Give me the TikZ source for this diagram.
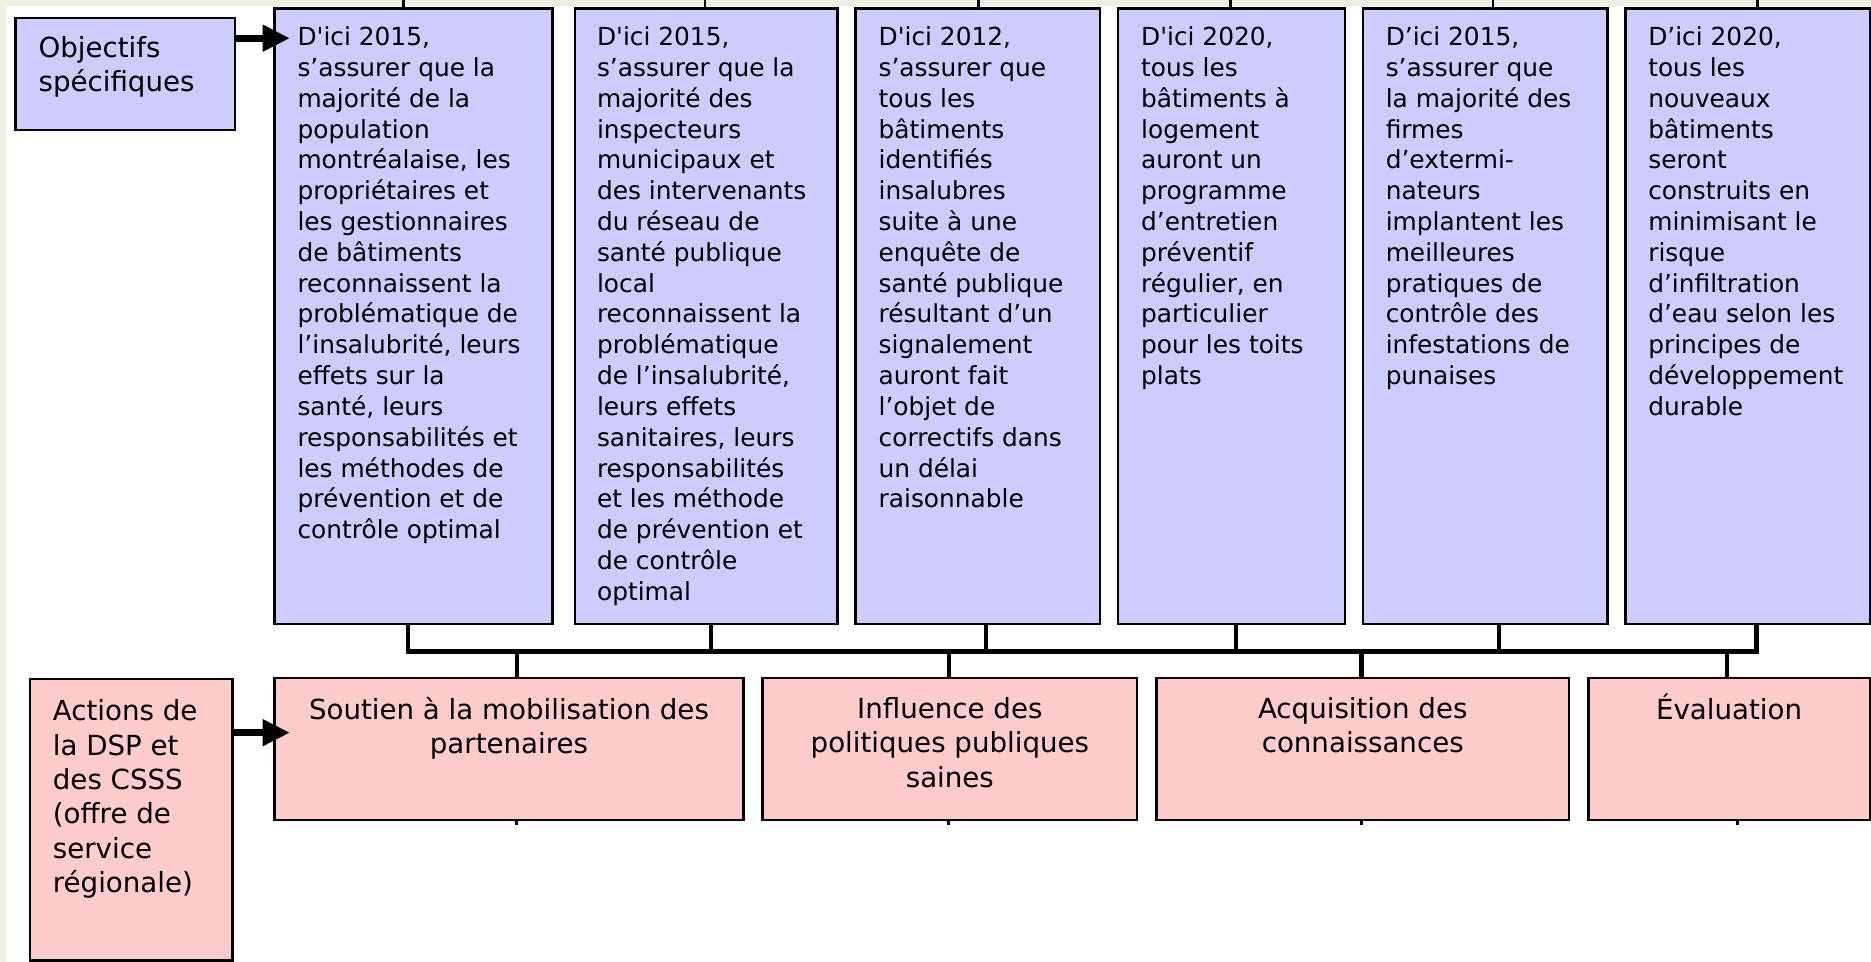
\documentclass[tikz,border=0pt]{standalone}
\usepackage{fontspec}
\setmainfont{DejaVu Sans}
\usepackage{tikz}
\usetikzlibrary{arrows.meta}
\definecolor{objblue}{RGB}{204,204,255}
\definecolor{actpink}{RGB}{255,204,204}
\definecolor{framebeige}{RGB}{238,240,228}
\newcommand{\smallbox}{\fontsize{11.85}{14.7}\selectfont}
\newcommand{\bigbox}{\fontsize{13.2}{16.4}\selectfont}

\begin{document}
\begin{tikzpicture}[x=0.02cm, y=-0.02cm]
	\tikzstyle{obj} = [draw, line width=1.2pt, fill=objblue, anchor=north west, inner sep=0]
	\tikzstyle{act} = [draw, line width=1.2pt, fill=actpink, anchor=north west, inner sep=0]
	\tikzstyle{objtext} = [anchor=north west, inner sep=0, align=left, font=\smallbox]
	\tikzstyle{sidetext} = [anchor=north west, inner sep=0, align=left, font=\bigbox]
	\tikzstyle{acttext} = [anchor=north, inner sep=0, align=center, font=\bigbox]
	\tikzstyle{bigarrow} = [line width=3.4pt, -{Triangle[length=13pt, width=12pt]}]
	\tikzstyle{bus} = [line width=2pt, line cap=rect]
	\tikzstyle{tick} = [line width=1.2pt]
	\useasboundingbox (0,0) rectangle (1568,806);
	\fill[framebeige] (0,0) rectangle (1568,806);
	\fill[white] (5,5) rectangle (1568,806);
	% objectifs
	\node[obj, minimum width=3.68cm, minimum height=1.88cm] (goal) at (12,14) {};
	\node[sidetext] (goalt) at (32,30) {Objectifs\\spécifiques};
	\node[obj, minimum width=4.66cm, minimum height=10.32cm] (o1) at (229,6) {};
	\node[obj, minimum width=4.40cm, minimum height=10.32cm] (o2) at (481,6) {};
	\node[obj, minimum width=4.10cm, minimum height=10.32cm] (o3) at (716,6) {};
	\node[obj, minimum width=3.80cm, minimum height=10.32cm] (o4) at (936,6) {};
	\node[obj, minimum width=4.10cm, minimum height=10.32cm] (o5) at (1141,6) {};
	\node[obj, minimum width=4.10cm, minimum height=10.32cm] (o6) at (1361,6) {};
	\node[objtext] (o1t) at (249,22) {D\textquotesingle ici 2015,\\s’assurer que la\\majorité de la\\population\\montréalaise, les\\propriétaires et\\les gestionnaires\\de bâtiments\\reconnaissent la\\problématique de\\l’insalubrité, leurs\\effets sur la\\santé, leurs\\responsabilités et\\les méthodes de\\prévention et de\\contrôle optimal};
	\node[objtext] (o2t) at (500,22) {D\textquotesingle ici 2015,\\s’assurer que la\\majorité des\\inspecteurs\\municipaux et\\des intervenants\\du réseau de\\santé publique\\local\\reconnaissent la\\problématique\\de l’insalubrité,\\leurs effets\\sanitaires, leurs\\responsabilités\\et les méthode\\de prévention et\\de contrôle\\optimal};
	\node[objtext] (o3t) at (736,22) {D\textquotesingle ici 2012,\\s’assurer que\\tous les\\bâtiments\\identifiés\\insalubres\\suite à une\\enquête de\\santé publique\\résultant d’un\\signalement\\auront fait\\l’objet de\\correctifs dans\\un délai\\raisonnable};
	\node[objtext] (o4t) at (956,22) {D\textquotesingle ici 2020,\\tous les\\bâtiments à\\logement\\auront un\\programme\\d’entretien\\préventif\\régulier, en\\particulier\\pour les toits\\plats};
	\node[objtext] (o5t) at (1161,22) {D’ici 2015,\\s’assurer que\\la majorité des\\firmes\\d’extermi-\\nateurs\\implantent les\\meilleures\\pratiques de\\contrôle des\\infestations de\\punaises};
	\node[objtext] (o6t) at (1381,22) {D’ici 2020,\\tous les\\nouveaux\\bâtiments\\seront\\construits en\\minimisant le\\risque\\d’infiltration\\d’eau selon les\\principes de\\développement\\durable};
	% actions
	\node[act, minimum width=3.40cm, minimum height=4.72cm] (dsp) at (24,568) {};
	\node[sidetext] (dspt) at (44,586) {Actions de\\la DSP et\\des CSSS\\(offre de\\service\\régionale)};
	\node[act, minimum width=7.86cm, minimum height=2.38cm] (a1) at (229,567) {};
	\node[act, minimum width=6.28cm, minimum height=2.38cm] (a2) at (638,567) {};
	\node[act, minimum width=6.92cm, minimum height=2.38cm] (a3) at (968,567) {};
	\node[act, minimum width=4.72cm, minimum height=2.38cm] (a4) at (1330,567) {};
	\node[acttext] (a1t) at ([yshift=-0.34cm]a1.north) {Soutien à la mobilisation des\\partenaires};
	\node[acttext] (a2t) at ([yshift=-0.34cm]a2.north) {Influence des\\politiques publiques\\saines};
	\node[acttext] (a3t) at ([yshift=-0.34cm]a3.north) {Acquisition des\\connaissances};
	\node[acttext] (a4t) at ([yshift=-0.28cm]a4.north) {Évaluation};
	% arrows
	\coordinate (tip1) at (243,32);
	\coordinate (tip2) at (243,614);
	\draw[bigarrow] (goal.east |- tip1) -- (tip1);
	\draw[bigarrow] (dsp.east |- tip2) -- (tip2);
	% bus
	\coordinate (j1) at (342,546);
	\coordinate (j2) at (596,546);
	\coordinate (j3) at (826,546);
	\coordinate (j4) at (1036,546);
	\coordinate (j5) at (1256,546);
	\coordinate (j6) at (1472,546);
	\coordinate (k1) at (433,546);
	\coordinate (k2) at (795,546);
	\coordinate (k3) at (1141,546);
	\coordinate (k4) at (1447,546);
	\draw[bus] (o1.south -| j1) -- (j1);
	\draw[bus] (o2.south -| j2) -- (j2);
	\draw[bus] (o3.south -| j3) -- (j3);
	\draw[bus] (o4.south -| j4) -- (j4);
	\draw[bus] (o5.south -| j5) -- (j5);
	\draw[bus] (o6.south -| j6) -- (j6);
	\draw[bus] (j1) -- (j6);
	\draw[bus] (k1) -- (a1.north -| k1);
	\draw[bus] (k2) -- (a2.north -| k2);
	\draw[bus] (k3) -- (a3.north -| k3);
	\draw[bus] (k4) -- (a4.north -| k4);
	% cut-off ends
	\coordinate (u1) at (338,0);
	\coordinate (u2) at (591,0);
	\coordinate (u3) at (820,0);
	\coordinate (u4) at (1031,0);
	\coordinate (u5) at (1251,0);
	\coordinate (u6) at (1473,0);
	\draw[tick] (u1) -- (o1.north -| u1);
	\draw[tick] (u2) -- (o2.north -| u2);
	\draw[tick] (u3) -- (o3.north -| u3);
	\draw[tick] (u4) -- (o4.north -| u4);
	\draw[tick] (u5) -- (o5.north -| u5);
	\draw[tick] (u6) -- (o6.north -| u6);
	\coordinate (d1) at (433,691);
	\coordinate (d2) at (795,691);
	\coordinate (d3) at (1141,691);
	\coordinate (d4) at (1456,691);
	\draw[tick] (a1.south -| d1) -- (d1);
	\draw[tick] (a2.south -| d2) -- (d2);
	\draw[tick] (a3.south -| d3) -- (d3);
	\draw[tick] (a4.south -| d4) -- (d4);
\end{tikzpicture}
\end{document}
